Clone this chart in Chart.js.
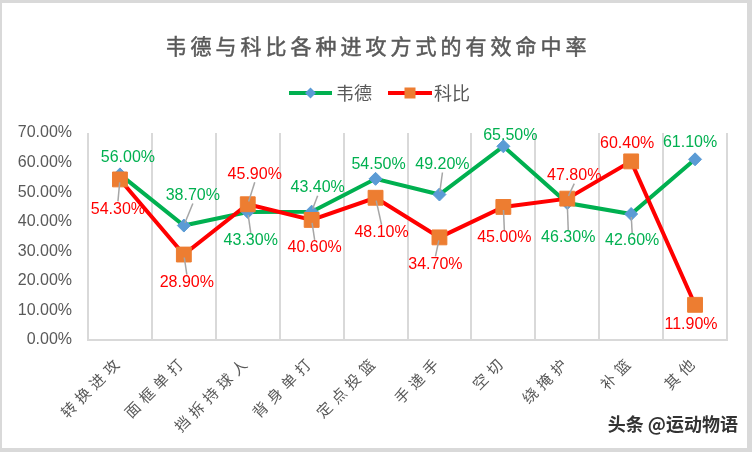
<!DOCTYPE html>
<html><head><meta charset="utf-8">
<script src="https://cdn.jsdelivr.net/npm/chart.js@4.4.1/dist/chart.umd.min.js"></script>
<style>html,body{margin:0;padding:0;background:#fff}#wrap{width:752px;height:452px;position:relative}canvas{display:block}</style>
</head><body><div id="wrap"><canvas id="c" width="752" height="452"></canvas></div>
<script>
const categories = ['转换进攻','面框单打','挡拆持球人','背身单打','定点投篮','手递手','空切','绕掩护','补篮','其他'];
const wadeValues = [56.00,38.70,43.30,43.40,54.50,49.20,65.50,46.30,42.60,61.10];
const kobeValues = [54.30,28.90,45.90,40.60,48.10,34.70,45.00,47.80,60.40,11.90];
const seriesNames = ['韦德','科比'];
const yMin = 0, yMax = 70, yStep = 10;
const titleText = '韦德与科比各种进攻方式的有效命中率';
const watermarkText = '头条 @运动物语';

// label placement offsets relative to each point (style only)
const wadeLabelOffsets = [[8,-17],[9,-30],[3,29],[6,-24],[3,-14],[3,-30],[7,-11],[1,35],[1,27],[-5,-17]];
const kobeLabelOffsets = [[-2,30],[3,28],[7,-30],[3,28],[6,35],[-4,27],[1,31],[7,-23],[-4,-18],[-4,20]];

const CJK = '"Noto Sans CJK SC", "Noto Sans", sans-serif';
const LAT = '"Liberation Sans", Arial, sans-serif';

const deco = {
  id: 'deco',
  beforeDraw(chart) {
    const ctx = chart.ctx;
    ctx.save();
    ctx.fillStyle = '#d9d9d9'; ctx.fillRect(0, 0, 752, 452);
    ctx.fillStyle = '#ffffff'; ctx.fillRect(2, 3, 745, 445);
    // title
    ctx.letterSpacing = '4px';
    ctx.font = '21px ' + CJK;
    ctx.fillStyle = '#595959'; ctx.textAlign = 'center'; ctx.textBaseline = 'middle';
    ctx.fillText(titleText, 378, 46);
    ctx.strokeStyle = '#595959'; ctx.lineWidth = 0.5;
    ctx.strokeText(titleText, 378, 46);
    ctx.letterSpacing = '0px';
    // legend
    const ds = chart.data.datasets;
    const items = [{x0: 289, x1: 332, tx: 336}, {x0: 388, x1: 432, tx: 434}];
    ds.forEach((d, i) => {
      const it = items[i], y = 93, cx = (it.x0 + it.x1) / 2;
      ctx.strokeStyle = d.borderColor; ctx.lineWidth = 4; ctx.lineCap = 'butt';
      ctx.beginPath(); ctx.moveTo(it.x0, y); ctx.lineTo(it.x1, y); ctx.stroke();
      ctx.fillStyle = d.pointBackgroundColor;
      if (d.pointStyle === 'rectRot') {
        ctx.beginPath(); ctx.moveTo(cx, y - 5.5); ctx.lineTo(cx + 5.5, y); ctx.lineTo(cx, y + 5.5); ctx.lineTo(cx - 5.5, y); ctx.closePath(); ctx.fill();
      } else {
        ctx.fillRect(cx - 5.5, y - 5.5, 11, 11);
      }
      ctx.font = '18px ' + CJK; ctx.fillStyle = '#595959'; ctx.textAlign = 'left'; ctx.textBaseline = 'middle';
      ctx.fillText(d.label, it.tx, y);
    });
    ctx.restore();
  },
  afterDatasetsDraw(chart) {
    const ctx = chart.ctx;
    ctx.save();
    ctx.font = '16px ' + LAT;
    ctx.textAlign = 'center'; ctx.textBaseline = 'middle';
    chart.data.datasets.forEach((d, di) => {
      const meta = chart.getDatasetMeta(di);
      const offs = d.labelOffsets;
      meta.data.forEach((el, i) => {
        const lx = el.x + offs[i][0], ly = el.y + offs[i][1];
        const gap = Math.abs(offs[i][1]) - 8;
        if (gap > 13) {
          const sgn = Math.sign(offs[i][1]);
          const ex = lx, ey = ly - sgn * 8;
          const vx = ex - el.x, vy = ey - el.y, L = Math.hypot(vx, vy);
          ctx.strokeStyle = '#a6a6a6'; ctx.lineWidth = 1.5;
          ctx.beginPath(); ctx.moveTo(el.x + vx / L * 3, el.y + vy / L * 3); ctx.lineTo(ex, ey); ctx.stroke();
        }
        ctx.fillStyle = d.labelColor;
        ctx.fillText(d.data[i].toFixed(2) + '%', lx, ly);
      });
    });
    ctx.restore();
    // letter spacing for x-axis tick labels (drawn in a later layer)
    ctx.letterSpacing = '5px';
  },
  afterDraw(chart) {
    const ctx = chart.ctx;
    ctx.letterSpacing = '0px';
    ctx.save();
    ctx.font = 'bold 18px ' + CJK;
    ctx.textAlign = 'right'; ctx.textBaseline = 'middle';
    ctx.shadowColor = 'rgba(255,255,255,0.9)'; ctx.shadowBlur = 2;
    ctx.fillStyle = '#333333';
    ctx.fillText(watermarkText, 738, 424);
    ctx.restore();
  }
};

new Chart(document.getElementById('c'), {
  type: 'line',
  data: {
    labels: categories,
    datasets: [
      { label: seriesNames[0], data: wadeValues, borderColor: '#00B050', borderWidth: 4, tension: 0,
        pointStyle: 'rectRot', pointRadius: 6.5, pointBackgroundColor: '#5B9BD5', pointBorderColor: '#5B9BD5', pointBorderWidth: 1,
        labelColor: '#00B050', labelOffsets: wadeLabelOffsets, order: 1 },
      { label: seriesNames[1], data: kobeValues, borderColor: '#FF0000', borderWidth: 4, tension: 0,
        pointStyle: 'rect', pointRadius: 10.5, pointBackgroundColor: '#ED7D31', pointBorderColor: '#ED7D31', pointBorderWidth: 1,
        labelColor: '#FF0000', labelOffsets: kobeLabelOffsets, order: 0 }
    ]
  },
  options: {
    responsive: false, animation: false, devicePixelRatio: 1,
    layout: { padding: { top: 133, right: 25, bottom: 0, left: 0 } },
    plugins: { legend: { display: false }, title: { display: false }, tooltip: { enabled: false } },
    scales: {
      x: {
        offset: true,
        grid: { offset: true, color: '#d9d9d9', lineWidth: 2, drawTicks: false },
        border: { display: true, color: '#d9d9d9', width: 2 },
        ticks: { z: 1, color: '#595959', font: { family: CJK, size: 15 }, maxRotation: 45, minRotation: 45, padding: 12, autoSkip: false },
        afterFit(s) { s.height = 112; }
      },
      y: {
        min: yMin, max: yMax,
        grid: { display: false, drawTicks: false },
        border: { display: false },
        ticks: { stepSize: yStep, callback: v => v.toFixed(2) + '%', color: '#595959', font: { family: LAT, size: 16 }, padding: 16 },
        afterFit(s) { s.width = 88; }
      }
    }
  },
  plugins: [deco]
});
</script>
</body></html>
